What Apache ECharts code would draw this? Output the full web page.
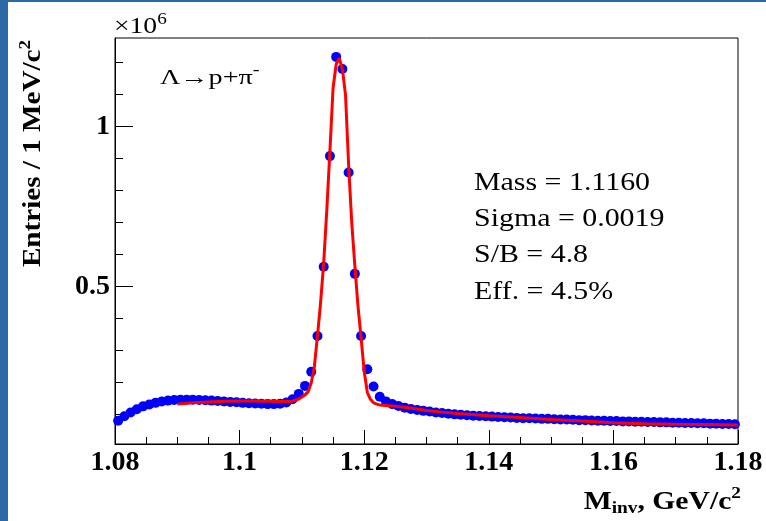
<!DOCTYPE html>
<html><head><meta charset="utf-8">
<script src="https://cdn.jsdelivr.net/npm/echarts@6/dist/echarts.min.js"></script>
<style>html,body{margin:0;padding:0;background:#fff}#c{width:766px;height:521px}</style>
</head><body><div id="c"></div>
<script>
// ---- data (entries in units of 10^6) ----
const histMin = 1.08, binWidth = 0.001;
const counts = [
0.081,0.095,0.107,0.117,0.126,0.132,0.137,0.141,0.144,0.146,
0.147,0.147,0.147,0.146,0.145,0.144,0.143,0.141,0.140,0.139,
0.137,0.136,0.135,0.134,0.133,0.133,0.134,0.138,0.148,0.165,
0.190,0.234,0.346,0.562,0.908,1.218,1.180,0.857,0.540,0.346,
0.242,0.188,0.156,0.141,0.133,0.127,0.122,0.118,0.115,0.112,
0.110,0.107,0.105,0.103,0.101,0.100,0.098,0.097,0.096,0.095,
0.094,0.093,0.092,0.091,0.090,0.089,0.089,0.088,0.087,0.087,
0.086,0.085,0.085,0.084,0.083,0.083,0.082,0.081,0.081,0.080,
0.080,0.079,0.079,0.078,0.078,0.077,0.077,0.076,0.076,0.075,
0.075,0.074,0.074,0.073,0.073,0.072,0.072,0.071,0.071,0.070];
const fitMass = [1.0900,1.0925,1.0950,1.0975,1.1000,1.1025,1.1050,1.1070,1.1085,1.1095,1.1100,1.1105,1.1110,1.1115,1.1120,1.1125,1.1130,1.1135,1.1140,1.1145,1.1150,1.1155,1.1160,1.1165,1.1170,1.1175,1.1180,1.1185,1.1190,1.1195,1.1200,1.1205,1.1210,1.1215,1.1225,1.1250,1.1275,1.1300,1.1325,1.1350,1.1400,1.1450,1.1500,1.1550,1.1600,1.1650,1.1700,1.1750,1.1800];
const fitValue = [0.133,0.137,0.140,0.142,0.143,0.143,0.142,0.141,0.142,0.149,0.155,0.162,0.172,0.200,0.250,0.346,0.450,0.575,0.740,0.925,1.120,1.195,1.214,1.180,1.100,0.880,0.700,0.565,0.440,0.340,0.235,0.170,0.148,0.137,0.130,0.126,0.121,0.113,0.108,0.104,0.097,0.091,0.085,0.080,0.075,0.072,0.070,0.069,0.068];
const xTickValues = [1.08,1.10,1.12,1.14,1.16,1.18];
const xTickLabels = ['1.08','1.1','1.12','1.14','1.16','1.18'];
const yTickValues = [0.5,1.0];
const yTickLabels = ['0.5','1'];
const yMinorValues = [0.1,0.2,0.3,0.4,0.6,0.7,0.8,0.9,1.1,1.2];
const statLines = ['Mass = 1.1160','Sigma = 0.0019','S/B = 4.8','Eff. = 4.5%'];

const points = counts.map((v,i)=>[histMin + (i+0.5)*binWidth, v]);
const fitPts = fitMass.map((m,i)=>[m, fitValue[i]]);

const serif = '"Liberation Serif","DejaVu Serif",serif';
const yMin = 0.0084, yMax = 1.277;

const chart = echarts.init(document.getElementById('c'), null, {renderer:'canvas'});
chart.setOption({
  animation:false,
  backgroundColor:'#fff',
  grid:{left:115, right:28, top:38, bottom:77, show:true, borderColor:'#000', borderWidth:1, backgroundColor:'transparent'},
  xAxis:{type:'value', min:1.08, max:1.18, interval:0.02,
    axisLine:{show:true, onZero:false, lineStyle:{color:'#000', width:1}},
    axisTick:{show:true, inside:true, length:14, lineStyle:{color:'#000'}},
    minorTick:{show:true, splitNumber:4, length:7, lineStyle:{color:'#000'}},
    splitLine:{show:false},
    axisLabel:{show:true, margin:5, color:'#000', fontFamily:serif, fontWeight:'bold', fontSize:28,
      customValues:xTickValues,
      formatter:(v)=>{const i=xTickValues.findIndex(t=>Math.abs(t-v)<1e-6);return i>=0?xTickLabels[i]:'';}}
  },
  yAxis:[{type:'value', min:yMin, max:yMax,
    axisLine:{show:true, lineStyle:{color:'#000', width:1}},
    axisTick:{show:true, inside:true, length:18, customValues:yTickValues, lineStyle:{color:'#000'}},
    splitLine:{show:false},
    axisLabel:{show:true, margin:5, color:'#000', fontFamily:serif, fontWeight:'bold', fontSize:28,
      customValues:yTickValues,
      formatter:(v)=>{const i=yTickValues.findIndex(t=>Math.abs(t-v)<1e-6);return i>=0?yTickLabels[i]:'';}}
  },{type:'value', min:yMin, max:yMax, position:'left',
    axisLine:{show:false}, splitLine:{show:false}, axisLabel:{show:false},
    axisTick:{show:true, inside:true, length:8, customValues:yMinorValues, lineStyle:{color:'#000'}}
  }],
  series:[
    {type:'scatter', data:points, symbol:'circle', symbolSize:10, itemStyle:{color:'#0000ff', opacity:1}, z:2},
    {type:'line', data:fitPts, showSymbol:false, smooth:false, lineStyle:{color:'#ff0000', width:3}, z:3}
  ],
  graphic:[
    {type:'rect', shape:{x:0,y:0,width:8,height:521}, style:{fill:'#2d6aa5'}, z:10},
    {type:'rect', shape:{x:0,y:0,width:766,height:2}, style:{fill:'#2d6aa5'}, z:10},
    {type:'text', x:114, y:27, scaleX:1.2, style:{text:'{a|×10}{s|6}', verticalAlign:'middle', align:'left',
      rich:{a:{fontFamily:serif, fontSize:23, fill:'#000'}, s:{fontFamily:serif, fontSize:16, fill:'#000', padding:[0,0,14,0]}}}},
    {type:'text', x:33, y:40, rotation:Math.PI/2, scaleX:1.12, style:{text:'{a|Entries / 1 MeV/c}{s|2}', align:'right', verticalAlign:'middle',
      rich:{a:{fontFamily:serif, fontSize:26, fontWeight:'bold', fill:'#000'}, s:{fontFamily:serif, fontSize:17, fontWeight:'bold', fill:'#000', padding:[0,0,15,0]}}}},
    {type:'text', x:741, y:502, scaleX:1.14, style:{text:'{a|M}{b|inv}{a|, GeV/c}{s|2}', align:'right', verticalAlign:'middle',
      rich:{a:{fontFamily:serif, fontSize:26, fontWeight:'bold', fill:'#000'}, b:{fontFamily:serif, fontSize:17, fontWeight:'bold', fill:'#000', padding:[14,0,0,0]}, s:{fontFamily:serif, fontSize:17, fontWeight:'bold', fill:'#000', padding:[0,0,16,0]}}}},
    {type:'text', x:160, y:78, scaleX:1.28, style:{text:'{a|Λ→p+π}{s|-}', align:'left', verticalAlign:'middle',
      rich:{a:{fontFamily:serif, fontSize:22, fill:'#000'}, s:{fontFamily:serif, fontSize:16, fill:'#000', padding:[0,0,14,0]}}}},
    ...statLines.map((t,i)=>({type:'text', x:474, y:183+i*36.3, scaleX:1.15, style:{text:t, fontFamily:serif, fontSize:26, fill:'#000', align:'left', verticalAlign:'middle'}}))
  ]
});
</script></body></html>
